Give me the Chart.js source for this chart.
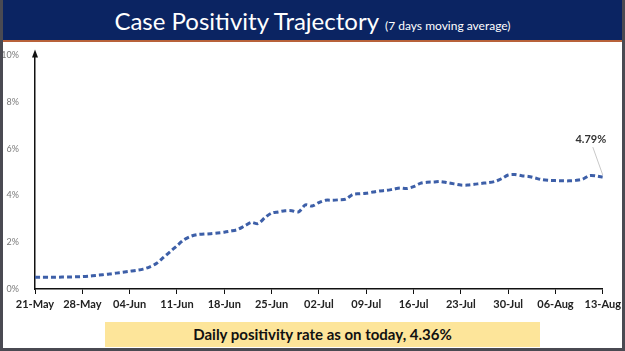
<!DOCTYPE html>
<html>
<head>
<meta charset="utf-8">
<script src="https://cdn.jsdelivr.net/npm/chart.js@4"></script>
<style>
    html, body { margin: 0; padding: 0; background: #fff; }
    #frame {
        position: relative; width: 625px; height: 351px; overflow: hidden;
        box-sizing: border-box; border-left: 3px solid #4a4a52; border-right: 3px solid #4a4a52;
        border-bottom: 3px solid #4a4a52; background: #fff;
    }
    #banner {
        position: absolute; left: -3px; top: 0; width: 625px; height: 40px;
        background: #0b2462; border-bottom: 2px solid #b8623a;
        font-family: 'Lato', sans-serif; color: #fff; text-align: center; line-height: 42px;
    }
    #banner .big { font-size: 24px; }
    #banner .small { font-size: 12px; margin-left: 6px; }
    #chartBox { position: absolute; left: -3px; top: 42px; width: 625px; height: 272px; }
    #note {
        position: absolute; left: 102px; top: 322px; width: 435px; height: 25px;
        background: #fde59a; font-family: 'Lato', sans-serif; font-weight: bold;
        font-size: 15px; color: #111; text-align: center; line-height: 25px;
    }
</style>
</head>
<body>
<div id="frame">
    <div id="banner"><span class="big">Case Positivity Trajectory</span><span class="small">(7 days moving average)</span></div>
    <div id="chartBox"><canvas id="posChart" width="625" height="272"></canvas></div>
    <div id="note">Daily positivity rate as on today, 4.36%</div>
</div>
<script>
// weekly tick labels, one every 7 days from 21-May
const tickLabels = ['21-May', '28-May', '04-Jun', '11-Jun', '18-Jun', '25-Jun', '02-Jul',
    '09-Jul', '16-Jul', '23-Jul', '30-Jul', '06-Aug', '13-Aug'];

// 7 day moving average of positivity (%), daily from 21-May to 13-Aug
const positivity = [
    0.50, 0.50, 0.50, 0.50, 0.51, 0.51, 0.52,
    0.53, 0.55, 0.58, 0.61, 0.64, 0.68, 0.72,
    0.76, 0.80, 0.85, 0.95, 1.10, 1.35, 1.60,
    1.85, 2.10, 2.25, 2.33, 2.35, 2.37, 2.40,
    2.43, 2.48, 2.55, 2.70, 2.85, 2.80, 3.05,
    3.25, 3.30, 3.35, 3.35, 3.30, 3.60, 3.55,
    3.70, 3.80, 3.80, 3.82, 3.85, 4.05, 4.08,
    4.10, 4.15, 4.20, 4.22, 4.27, 4.32, 4.30,
    4.38, 4.52, 4.57, 4.58, 4.60, 4.55, 4.50,
    4.45, 4.45, 4.48, 4.52, 4.55, 4.60, 4.72,
    4.88, 4.90, 4.85, 4.82, 4.75, 4.68, 4.65,
    4.64, 4.63, 4.63, 4.65, 4.70, 4.85, 4.84,
    4.79
];

const lastLabel = '4.79%';

const points = positivity.map((v, i) => ({x: i, y: v}));

// arrow on the y axis and the call-out for the last value
const extras = {
    id: 'extras',
    afterDraw(chart) {
        const ctx = chart.ctx;
        const area = chart.chartArea;
        ctx.save();
        ctx.fillStyle = '#111';
        ctx.beginPath();
        ctx.moveTo(area.left, area.top - 6);
        ctx.lineTo(area.left - 3, area.top + 2);
        ctx.lineTo(area.left + 3, area.top + 2);
        ctx.closePath();
        ctx.fill();

        const meta = chart.getDatasetMeta(0);
        const last = meta.data[meta.data.length - 1];
        const tx = last.x - 12;
        const ty = last.y - 38;
        ctx.strokeStyle = '#c8c8c8';
        ctx.lineWidth = 1;
        ctx.beginPath();
        ctx.moveTo(tx + 2, ty + 8);
        ctx.lineTo(last.x, last.y - 2);
        ctx.stroke();
        ctx.fillStyle = '#333';
        ctx.font = 'bold 11px Lato, sans-serif';
        ctx.textAlign = 'center';
        ctx.textBaseline = 'middle';
        ctx.fillText(lastLabel, tx, ty);
        ctx.restore();
    }
};

const ctx = document.getElementById('posChart').getContext('2d');
new Chart(ctx, {
    type: 'line',
    data: {
        datasets: [{
            data: points,
            borderColor: '#3d5fa8',
            borderWidth: 3,
            borderDash: [5, 3],
            pointRadius: 0,
            tension: 0.3,
            fill: false
        }]
    },
    options: {
        responsive: false,
        animation: false,
        layout: { padding: { top: 10, right: 20, left: 0, bottom: 0 } },
        plugins: { legend: { display: false }, tooltip: { enabled: false } },
        scales: {
            x: {
                type: 'linear',
                min: 0,
                max: 84,
                grid: { display: true, drawOnChartArea: false, color: '#111', tickLength: 5 },
                border: { display: true, color: '#111', width: 1.5 },
                ticks: {
                    stepSize: 7,
                    autoSkip: false,
                    maxRotation: 0,
                    padding: 4,
                    color: '#222',
                    font: { family: 'Lato', size: 11, weight: 'bold' },
                    callback: v => tickLabels[v / 7]
                },
                afterFit: s => { s.height = 25; }
            },
            y: {
                min: 0,
                max: 10,
                grid: { display: false },
                border: { display: true, color: '#111', width: 1.5 },
                ticks: {
                    stepSize: 2,
                    padding: 8,
                    color: '#7a7a7a',
                    font: { family: 'Lato', size: 9 },
                    callback: v => v + '%'
                },
                afterFit: s => { s.width = 35; }
            }
        }
    },
    plugins: [extras]
});
</script>
</body>
</html>
